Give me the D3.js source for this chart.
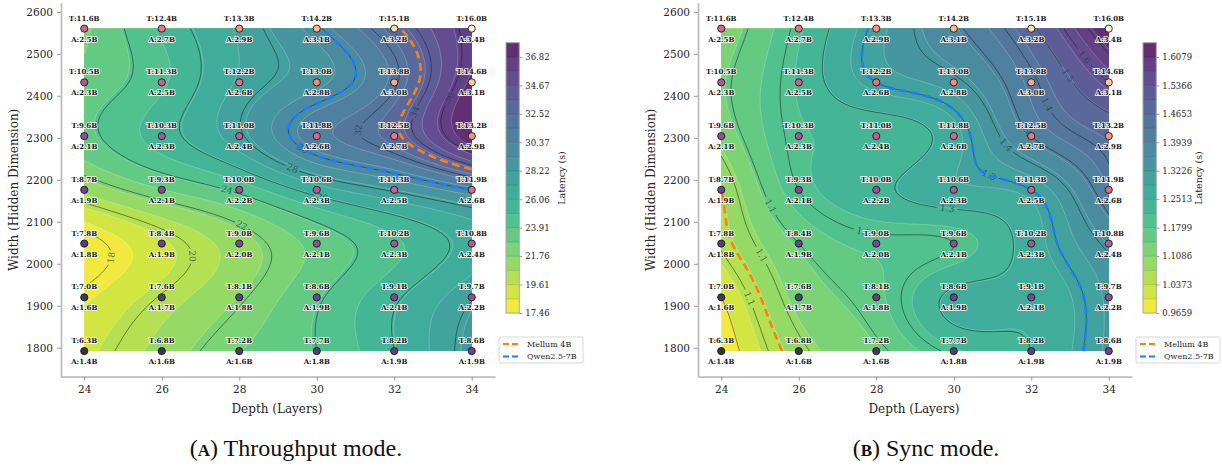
<!DOCTYPE html>
<html>
<head>
<meta charset="utf-8">
<script src="https://cdn.jsdelivr.net/npm/d3@7"></script>
<style>
body { margin: 0; background: #fff; }
text { font-family: "DejaVu Serif", serif; }
</style>
</head>
<body>
<svg id="chart" width="1222" height="466"></svg>
<script>
// ---DATA---//

var depths = [24, 26, 28, 30, 32, 34];
var widths = [1792, 1920, 2048, 2176, 2304, 2432, 2560];

// rows follow widths (bottom -> top), columns follow depths
var totalParams = [
	[6.3, 6.8, 7.2, 7.7, 8.2, 8.6],
	[7.0, 7.6, 8.1, 8.6, 9.1, 9.7],
	[7.8, 8.4, 9.0, 9.6, 10.2, 10.8],
	[8.7, 9.3, 10.0, 10.6, 11.3, 11.9],
	[9.6, 10.3, 11.0, 11.8, 12.5, 13.2],
	[10.5, 11.3, 12.2, 13.0, 13.8, 14.6],
	[11.6, 12.4, 13.3, 14.2, 15.1, 16.0]
];
var activeParams = [
	[1.4, 1.6, 1.6, 1.8, 1.9, 1.9],
	[1.6, 1.7, 1.8, 1.9, 2.1, 2.2],
	[1.8, 1.9, 2.0, 2.1, 2.3, 2.4],
	[1.9, 2.1, 2.2, 2.3, 2.5, 2.6],
	[2.1, 2.3, 2.4, 2.6, 2.7, 2.9],
	[2.3, 2.5, 2.6, 2.8, 3.0, 3.1],
	[2.5, 2.7, 2.9, 3.1, 3.2, 3.4]
];

// latency (s)
var throughputLatency = [
	[19.3, 21.1, 22.8, 24.0, 26.0, 28.6],
	[18.3, 20.1, 21.8, 23.8, 25.8, 27.9],
	[17.46, 19.4, 21.3, 23.2, 24.8, 26.5],
	[21.0, 22.8, 24.3, 26.6, 28.2, 30.0],
	[23.6, 25.5, 27.8, 31.0, 33.0, 37.90],
	[23.2, 24.8, 27.3, 29.0, 31.8, 37.2],
	[22.6, 25.2, 27.3, 29.8, 33.0, 36.6]
];
var syncLatency = [
	[0.9659, 1.09, 1.14, 1.21, 1.25, 1.33],
	[1.00, 1.12, 1.17, 1.26, 1.26, 1.33],
	[1.055, 1.15, 1.19, 1.20, 1.27, 1.36],
	[1.07, 1.20, 1.24, 1.28, 1.30, 1.43],
	[1.12, 1.21, 1.22, 1.275, 1.40, 1.47],
	[1.14, 1.22, 1.30, 1.34, 1.44, 1.55],
	[1.12, 1.21, 1.31, 1.39, 1.49, 1.6436]
];

var throughputLineLevels = [18, 20, 22, 24, 26, 28, 30, 32, 34, 36];
var syncLineLevels = [1.00, 1.05, 1.10, 1.15, 1.20, 1.25, 1.30, 1.35, 1.40, 1.45, 1.50, 1.55, 1.60];

var throughputTicks = ["17.46", "19.61", "21.76", "23.91", "26.06", "28.22", "30.37", "32.52", "34.67", "36.82"];
var syncTicks = ["0.9659", "1.0373", "1.1086", "1.1799", "1.2513", "1.3226", "1.3939", "1.4653", "1.5366", "1.6079"];

var refModels = ["Mellum 4B", "Qwen2.5-7B"];
var refColors = ["#ff7f0e", "#1a7cff"];
var throughputRefLatency = [33.3, 30.0];
var syncRefLatency = [1.07, 1.30];

var yTicks = [1800, 1900, 2000, 2100, 2200, 2300, 2400, 2500, 2600];
var captions = [["A", " Throughput mode."], ["B", " Sync mode."]];

// ---SETTINGS---//

var svg = d3.select("#chart");
var nx = 151, ny = 121;
var fillAlpha = 0.85;
var nBands = 19;

var panels = [
	{ left: 61, latency: throughputLatency, lineLevels: throughputLineLevels, ticks: throughputTicks, refs: throughputRefLatency, fmt: function(v) { return d3.format("d")(v); }, caption: captions[0], capX: 296 },
	{ left: 698, latency: syncLatency, lineLevels: syncLineLevels, ticks: syncTicks, refs: syncRefLatency, fmt: function(v) { return v.toFixed(1); }, caption: captions[1], capX: 926 }
];

// natural cubic spline through (xs, ys)
function naturalSpline(xs, ys) {
	var n = xs.length, m = new Array(n).fill(0);
	var cp = new Array(n).fill(0), dp = new Array(n).fill(0);
	for (var i = 1; i < n - 1; i++) {
		var h0 = xs[i] - xs[i - 1], h1 = xs[i + 1] - xs[i];
		var a = h0, b = 2 * (h0 + h1), c = h1;
		var r = 6 * ((ys[i + 1] - ys[i]) / h1 - (ys[i] - ys[i - 1]) / h0);
		var den = b - a * cp[i - 1];
		cp[i] = c / den;
		dp[i] = (r - a * dp[i - 1]) / den;
	}
	for (var i = n - 2; i >= 1; i--) {
		m[i] = dp[i] - cp[i] * m[i + 1];
	}
	return function(x) {
		var k = 0;
		while (k < n - 2 && x > xs[k + 1]) k++;
		var h = xs[k + 1] - xs[k];
		var A = (xs[k + 1] - x) / h, B = (x - xs[k]) / h;
		return A * ys[k] + B * ys[k + 1] + ((A * A * A - A) * m[k] + (B * B * B - B) * m[k + 1]) * h * h / 6;
	};
}

// resample the measured grid onto a fine grid for the contour routine
function fineGrid(grid) {
	var fx = d3.range(nx).map(function(i) { return depths[0] + i * (depths[depths.length - 1] - depths[0]) / (nx - 1); });
	var fy = d3.range(ny).map(function(j) { return widths[0] + j * (widths[widths.length - 1] - widths[0]) / (ny - 1); });
	var cols = depths.map(function(d, c) {
		var s = naturalSpline(widths, grid.map(function(row) { return row[c]; }));
		return fy.map(s);
	});
	var values = new Array(nx * ny);
	for (var j = 0; j < ny; j++) {
		var s = naturalSpline(depths, cols.map(function(col) { return col[j]; }));
		for (var i = 0; i < nx; i++) values[j * nx + i] = s(fx[i]);
	}
	return values;
}

function onBorder(p) {
	return p[0] <= 0 || p[0] >= nx || p[1] <= 0 || p[1] >= ny;
}

// open polylines of a contour (edges along the grid border dropped)
function contourLines(geom) {
	var out = [];
	geom.coordinates.forEach(function(poly) {
		poly.forEach(function(ring) {
			var lines = [], cur = null;
			for (var i = 0; i < ring.length - 1; i++) {
				var p = ring[i], q = ring[i + 1];
				if (onBorder(p) || onBorder(q)) { cur = null; continue; }
				if (!cur) { cur = [p]; lines.push(cur); }
				cur.push(q);
			}
			if (lines.length > 1 && !onBorder(ring[0])) {
				var first = lines.shift();
				lines[lines.length - 1] = lines[lines.length - 1].concat(first.slice(1));
			}
			out = out.concat(lines);
		});
	});
	return out;
}

panels.forEach(function(P, pi) {

	var x0 = P.left, x1 = P.left + 434, yTop = 3, yBot = 376.7;
	var x = d3.scaleLinear().domain([23.4, 34.6]).range([x0, x1]);
	var y = d3.scaleLinear().domain([1731, 2621]).range([yBot, yTop]);

	var flat = [].concat.apply([], P.latency);
	var lo = d3.min(flat), hi = d3.max(flat);
	var levels = d3.range(nBands + 1).map(function(i) { return lo + i * (hi - lo) / nBands; });
	var bandColor = function(i) {
		return d3.interpolateRgb("#ffffff", d3.interpolateViridis(1 - (i + 0.5) / nBands))(fillAlpha);
	};

	var gx = function(g) { return x(depths[0] + Math.max(0, Math.min(nx - 1, g - 0.5)) * 10 / (nx - 1)); };
	var gy = function(g) { return y(widths[0] + Math.max(0, Math.min(ny - 1, g - 0.5)) * 768 / (ny - 1)); };
	var proj = d3.geoTransform({ point: function(px, py) { this.stream.point(gx(px), gy(py)); } });
	var path = d3.geoPath(proj);
	var line = d3.line().x(function(p) { return gx(p[0]); }).y(function(p) { return gy(p[1]); });

	var values = fineGrid(P.latency);
	var contours = d3.contours().size([nx, ny]);

	var g = svg.append("g").attr("class", "panel" + pi);

	// ---filled bands---//
	g.append("rect")
		.attr("x", x(depths[0])).attr("y", y(widths[widths.length - 1]))
		.attr("width", x(depths[depths.length - 1]) - x(depths[0]))
		.attr("height", y(widths[0]) - y(widths[widths.length - 1]))
		.attr("fill", bandColor(0));

	var bands = contours.thresholds(levels.slice(1, nBands))(values);
	g.append("g").selectAll("path").data(bands).enter().append("path")
		.attr("d", path)
		.attr("fill", function(d, i) { return bandColor(i + 1); });

	// thin light edges between bands
	g.append("g").selectAll("path").data(bands).enter().append("path")
		.attr("d", function(d) { return contourLines(d).map(line).join(""); })
		.attr("fill", "none").attr("stroke", "#ffffff").attr("stroke-opacity", 0.35).attr("stroke-width", 0.6);

	// ---black contour lines with inline labels---//
	var lineSets = contours.thresholds(P.lineLevels)(values);
	var labels = [];
	lineSets.forEach(function(d) {
		contourLines(d).forEach(function(pl) {
			var pts = pl.map(function(p) { return [gx(p[0]), gy(p[1])]; });
			var cum = [0];
			for (var i = 1; i < pts.length; i++) cum.push(cum[i - 1] + Math.hypot(pts[i][0] - pts[i - 1][0], pts[i][1] - pts[i - 1][1]));
			var len = cum[cum.length - 1];
			if (len < 70) return;
			var at = function(s) {
				var k = d3.bisectLeft(cum, s);
				k = Math.max(1, Math.min(pts.length - 1, k));
				var t = (s - cum[k - 1]) / ((cum[k] - cum[k - 1]) || 1);
				return [pts[k - 1][0] + t * (pts[k][0] - pts[k - 1][0]), pts[k - 1][1] + t * (pts[k][1] - pts[k - 1][1])];
			};
			var mid = at(len * 0.5), a = at(len * 0.5 - 8), b = at(len * 0.5 + 8);
			var ang = Math.atan2(b[1] - a[1], b[0] - a[0]) * 180 / Math.PI;
			if (ang > 90) ang -= 180;
			if (ang < -90) ang += 180;
			labels.push({ x: mid[0], y: mid[1], a: ang, t: P.fmt(d.value) });
		});
	});

	var mask = svg.append("defs").append("mask").attr("id", "lblmask" + pi);
	mask.append("rect").attr("x", 0).attr("y", 0).attr("width", 1222).attr("height", 466).attr("fill", "#fff");
	mask.selectAll("rect.cut").data(labels).enter().append("rect").attr("class", "cut")
		.attr("x", function(d) { return -d.t.length * 2.7 - 2; }).attr("y", -5)
		.attr("width", function(d) { return d.t.length * 5.4 + 4; }).attr("height", 10)
		.attr("transform", function(d) { return "translate(" + d.x + "," + d.y + ") rotate(" + d.a + ")"; })
		.attr("fill", "#000");

	g.append("g").attr("mask", "url(#lblmask" + pi + ")").selectAll("path").data(lineSets).enter().append("path")
		.attr("d", function(d) { return contourLines(d).map(line).join(""); })
		.attr("fill", "none").attr("stroke", "#1a1a1a").attr("stroke-opacity", 0.65).attr("stroke-width", 0.8);

	g.append("g").selectAll("text").data(labels).enter().append("text")
		.attr("transform", function(d) { return "translate(" + d.x + "," + d.y + ") rotate(" + d.a + ")"; })
		.attr("text-anchor", "middle").attr("dominant-baseline", "central")
		.attr("font-size", 9).attr("fill", "#2a3a4a").attr("fill-opacity", 0.75)
		.text(function(d) { return d.t; });

	// ---reference models as dashed iso-latency lines---//
	// (d3.contours sorts thresholds, so colour each set by its own value)
	var refSets = contours.thresholds(P.refs)(values);
	g.append("g").selectAll("path").data(refSets).enter().append("path")
		.attr("d", function(d) { return contourLines(d).map(line).join(""); })
		.attr("fill", "none").attr("stroke", function(d) { return refColors[P.refs.indexOf(d.value)]; })
		.attr("stroke-width", 2.6).attr("stroke-dasharray", "8,4.5");

	// ---architecture points---//
	var pts = [];
	widths.forEach(function(w, r) {
		depths.forEach(function(dp, c) {
			pts.push({ depth: dp, width: w, T: totalParams[r][c], A: activeParams[r][c] });
		});
	});
	var tExtent = d3.extent(pts, function(d) { return d.T; });
	var magma = d3.scaleSequential(d3.interpolateMagma).domain(tExtent);

	g.append("g").selectAll("circle").data(pts).enter().append("circle")
		.attr("cx", function(d) { return x(d.depth); }).attr("cy", function(d) { return y(d.width); })
		.attr("r", 3.6)
		.attr("fill", function(d) { return d3.interpolateRgb("#ffffff", magma(d.T))(0.8); })
		.attr("stroke", "#1a1a1a").attr("stroke-width", 0.9);

	var ptLabels = g.append("g").attr("font-size", 7).attr("font-weight", "bold").attr("text-anchor", "middle")
		.attr("dominant-baseline", "central").attr("fill", "#1a1a1a")
		.attr("stroke", "#ffffff").attr("stroke-width", 1.8).attr("stroke-opacity", 0.85).attr("paint-order", "stroke");
	ptLabels.selectAll("text.t").data(pts).enter().append("text").attr("class", "t")
		.attr("x", function(d) { return x(d.depth); }).attr("y", function(d) { return y(d.width) - 10.5; })
		.text(function(d) { return "T:" + d.T.toFixed(1) + "B"; });
	ptLabels.selectAll("text.a").data(pts).enter().append("text").attr("class", "a")
		.attr("x", function(d) { return x(d.depth); }).attr("y", function(d) { return y(d.width) + 10.5; })
		.text(function(d) { return "A:" + d.A.toFixed(1) + "B"; });

	// ---axes---//
	var xAxis = g.append("g").attr("transform", "translate(0," + yBot + ")")
		.call(d3.axisBottom(x).tickValues(depths).tickSize(4).tickSizeOuter(0).tickPadding(5));
	var yAxis = g.append("g").attr("transform", "translate(" + x0 + ",0)")
		.call(d3.axisLeft(y).tickValues(yTicks).tickFormat(d3.format("d")).tickSize(4).tickSizeOuter(0).tickPadding(4));
	[xAxis, yAxis].forEach(function(ax) {
		ax.select(".domain").attr("stroke", "#bdbdbd").attr("stroke-width", 1.8);
		ax.selectAll(".tick line").attr("stroke", "#9a9a9a");
		ax.selectAll(".tick text").attr("font-family", "DejaVu Serif").attr("font-size", 10.5).attr("fill", "#262626");
	});

	g.append("text").attr("x", (x0 + x1) / 2 - 1).attr("y", 409).attr("text-anchor", "middle")
		.attr("dominant-baseline", "central").attr("font-size", 12).attr("fill", "#262626").text("Depth (Layers)");
	g.append("text").attr("transform", "translate(" + (x0 - 47) + "," + (yTop + yBot) / 2 + ") rotate(-90)")
		.attr("text-anchor", "middle").attr("dominant-baseline", "central").attr("font-size", 12).attr("fill", "#262626")
		.text("Width (Hidden Dimension)");

	// ---colorbar---//
	var cbx = x0 + 445, cbw = 13.3;
	var cy = d3.scaleLinear().domain([levels[0], levels[nBands]]).range([313, 42.7]);
	var cb = g.append("g");
	cb.selectAll("rect").data(d3.range(nBands)).enter().append("rect")
		.attr("x", cbx).attr("width", cbw)
		.attr("y", function(i) { return cy(levels[i + 1]); })
		.attr("height", function(i) { return cy(levels[i]) - cy(levels[i + 1]) + 0.3; })
		.attr("fill", function(i) { return bandColor(i); });
	cb.selectAll("line.sep").data(d3.range(1, nBands)).enter().append("line").attr("class", "sep")
		.attr("x1", cbx).attr("x2", cbx + cbw)
		.attr("y1", function(i) { return cy(levels[i]); }).attr("y2", function(i) { return cy(levels[i]); })
		.attr("stroke", function(i) { return d3.color(bandColor(i)).darker(0.5); }).attr("stroke-width", 0.6);
	cb.append("rect").attr("x", cbx).attr("y", 42.7).attr("width", cbw).attr("height", 313 - 42.7)
		.attr("fill", "none").attr("stroke", "#a8a8a8").attr("stroke-width", 1);
	var cbTicks = cb.append("g").attr("transform", "translate(" + (cbx + cbw) + ",0)")
		.call(d3.axisRight(cy).tickValues(P.ticks.map(Number)).tickFormat(function(v, i) { return P.ticks[i]; }).tickSize(3).tickPadding(3));
	cbTicks.select(".domain").remove();
	cbTicks.selectAll(".tick line").attr("stroke", "#9a9a9a");
	cbTicks.selectAll(".tick text").attr("font-family", "DejaVu Serif").attr("font-size", 8.5).attr("fill", "#262626");
	cb.append("text").attr("transform", "translate(" + (x0 + 500) + ",178) rotate(-90)")
		.attr("text-anchor", "middle").attr("dominant-baseline", "central").attr("font-size", 9.5).attr("fill", "#262626")
		.text("Latency (s)");

	// ---legend---//
	var lg = g.append("g").attr("transform", "translate(" + (x0 + 438) + ",337)");
	lg.append("rect").attr("width", 84).attr("height", 26).attr("rx", 2)
		.attr("fill", "#fff").attr("fill-opacity", 0.85).attr("stroke", "#cccccc").attr("stroke-width", 0.8);
	refModels.forEach(function(name, i) {
		var yy = 7 + i * 12.5;
		lg.append("line").attr("x1", 4).attr("x2", 21).attr("y1", yy).attr("y2", yy)
			.attr("stroke", refColors[i]).attr("stroke-width", 2).attr("stroke-dasharray", "6,3");
		lg.append("text").attr("x", 28).attr("y", yy).attr("dominant-baseline", "central")
			.attr("font-size", 8).attr("fill", "#262626").text(name);
	});

	// ---caption---//
	var cap = g.append("text").attr("x", P.capX).attr("y", 456).attr("text-anchor", "middle")
		.style("font-family", "'Liberation Serif', serif").attr("font-size", 24).attr("fill", "#111");
	cap.append("tspan").text("(");
	cap.append("tspan").attr("font-size", 17).attr("font-weight", "bold").text(P.caption[0]);
	cap.append("tspan").text(")" + P.caption[1]);
});
</script>
</body>
</html>
